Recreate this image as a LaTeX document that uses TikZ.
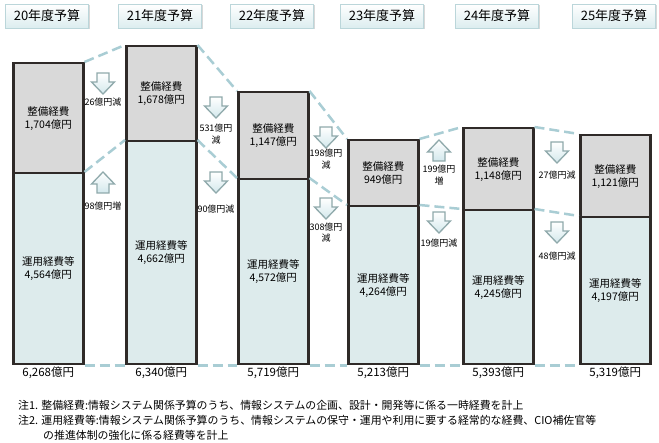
\documentclass[tikz,border=0pt]{standalone}
\usepackage{fontspec}
\setmainfont{Noto Sans CJK JP}
\usepackage{tikz}
\usetikzlibrary{positioning, shadows}
\definecolor{barframe}{HTML}{2F2A28}
\definecolor{upperfill}{HTML}{D9D9D9}
\definecolor{lowerfill}{HTML}{DDEBEC}
\definecolor{dashblue}{HTML}{A9CDD4}
\definecolor{arrowline}{HTML}{8FA9AB}
\definecolor{arrowfill}{HTML}{D3E8EC}
\definecolor{yearline}{HTML}{BBD6DA}
\definecolor{yearfill}{HTML}{DCEDEF}

\tikzset{
	yearbox/.style={draw=yearline, line width=0.8pt, top color=white, bottom color=yearfill, minimum width=83pt, minimum height=24pt, drop shadow={opacity=0.3, shadow xshift=1pt, shadow yshift=-1.5pt}, font=\fontsize{13}{15}\selectfont},
	upperbox/.style={draw=barframe, line width=2.5pt, fill=upperfill, minimum width=70pt, inner sep=0pt, align=center, anchor=north west, font=\fontsize{10.5}{13}\selectfont},
	lowerbox/.style={upperbox, fill=lowerfill},
	totallabel/.style={inner sep=1pt, font=\fontsize{11.5}{13}\selectfont},
	difflabel/.style={inner sep=0pt, align=center, font=\fontsize{9}{11.5}\selectfont},
	guide/.style={dashblue, line width=2.5pt, dash pattern=on 10pt off 5pt},
	blockarrow/.style={draw=arrowline, line width=1.3pt, top color=white, bottom color=arrowfill},
	note/.style={inner sep=0pt, anchor=west, font=\fontsize{10.9}{12}\selectfont}
}

\begin{document}
\begin{tikzpicture}[x=1pt, y=-1pt]

\def \ybase{363}

\newcommand{\arrowdown}[2]{\draw[blockarrow] (#1-6, #2) -- (#1+6, #2) -- (#1+6, #2+9) -- (#1+11.5, #2+9) -- (#1, #2+21) -- (#1-11.5, #2+9) -- (#1-6, #2+9) -- cycle;}
\newcommand{\arrowup}[2]{\draw[blockarrow] (#1, #2) -- (#1+11.5, #2+12) -- (#1+6, #2+12) -- (#1+6, #2+21) -- (#1-6, #2+21) -- (#1-6, #2+12) -- (#1-11.5, #2+12) -- cycle;}

\fill[white] (0,0) rectangle (659,443);
\useasboundingbox (0,0) rectangle (659,443);

\foreach \n/\xl/\yt/\ym/\yr/\dev/\ops/\total in {
	1/12/62/172/20/{1,704}/{4,564}/{6,268},
	2/125/45/140/21/{1,678}/{4,662}/{6,340},
	3/237/91/178/22/{1,147}/{4,572}/{5,719},
	4/347/139/205/23/{949}/{4,264}/{5,213},
	5/462/127/209/24/{1,148}/{4,245}/{5,393},
	6/579/134/216/25/{1,121}/{4,197}/{5,319}} {
	\node[yearbox] (h\n) at (\xl+35, 16) {\yr 年度予算}; % year header
	\node[upperbox, minimum height=(\ym-\yt)*1pt] (u\n) at (\xl, \yt) {整備経費\\\dev 億円}; % upper part
	\node[lowerbox, minimum height=(\ybase-\ym)*1pt] (l\n) at (\xl, \ym) {運用経費等\\\ops 億円}; % lower part
	\node[totallabel, below=0pt of l\n] (t\n) {\total 億円}; % sum
}

\foreach \a/\b in {1/2, 2/3, 3/4, 4/5, 5/6} {
	\draw[guide] (u\a.north east) -- (u\b.north west); % top line
	\draw[guide] (l\a.north east) -- (l\b.north west); % middle line
	\draw[guide] (l\a.south east) -- (l\b.south west); % base line
}

\foreach \n/\x/\y/\dir/\ly/\txt in {
	1a/103/73/down/102/{26億円減},
	1b/103/172/up/206/{98億円増},
	2a/216/97/down/134/{531億円\\減},
	2b/216/172/down/209/{90億円減},
	3a/326/127/down/159/{198億円\\減},
	3b/326/198/down/232.5/{308億円\\減},
	4a/439/140/up/175/{199億円\\増},
	4b/439/212/down/243/{19億円減},
	5a/557/142/down/175/{27億円減},
	5b/557/222/down/256/{48億円減}} {
	\csname arrow\dir\endcsname{\x}{\y}
	\node[difflabel] (d\n) at (\x, \ly) {\txt};
}

\node[note] (n1) at (18, 405) {注1. 整備経費:情報システム関係予算のうち、情報システムの企画、設計・開発等に係る一時経費を計上};
\node[note] (n2) at (18, 420) {注2. 運用経費等:情報システム関係予算のうち、情報システムの保守・運用や利用に要する経常的な経費、CIO補佐官等};
\node[note] (n3) at (43, 435) {の推進体制の強化に係る経費等を計上};

\end{tikzpicture}
\end{document}
